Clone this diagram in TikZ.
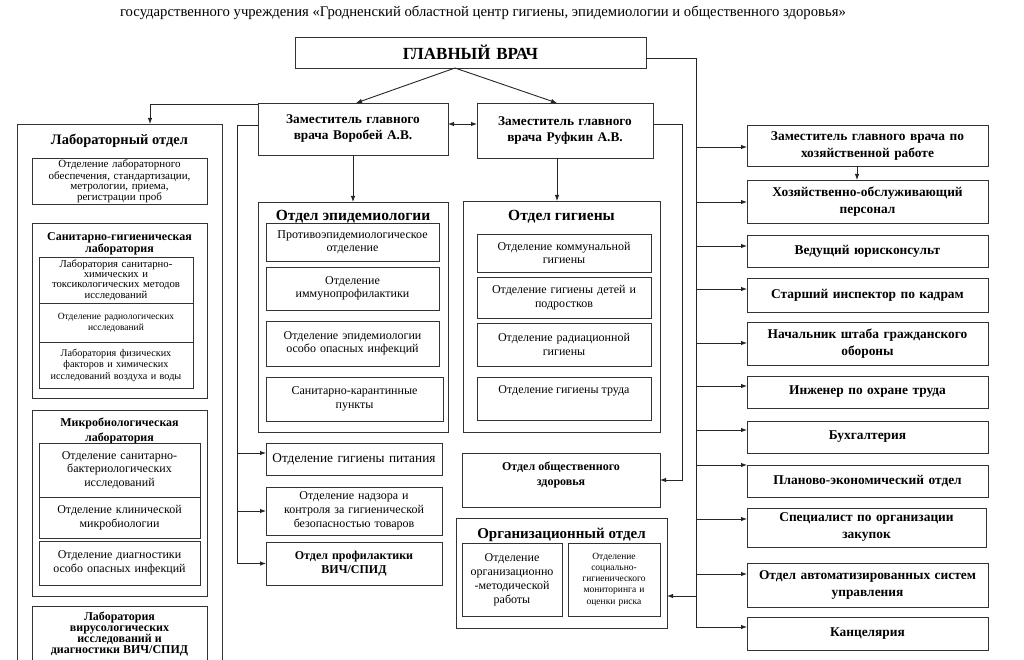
\documentclass[tikz,border=0pt]{standalone}
\usepackage{fontspec}
\setmainfont{Liberation Serif}
\usetikzlibrary{arrows.meta,calc}
\newcommand\fs[2]{\fontsize{#1}{#2}\selectfont}
\tikzset{
  bx/.style={draw=black!80, line width=0.9pt, inner sep=2pt, outer sep=0pt, align=center, anchor=north west, font=\rmfamily},
  txt/.style={inner sep=0pt, outer sep=0pt, align=center},
  rb/.style={font=\bfseries\fs{13.4}{17}},
  reg/.style={font=\fs{12}{13.5}},
  ttl/.style={font=\bfseries\fs{15.5}{16}},
  ln/.style={line width=0.9pt, draw=black!85},
  arr/.style={ln, -{Latex[length=6pt,width=4.5pt]}},
  dbl/.style={ln, {Latex[length=6pt,width=4.5pt]}-{Latex[length=6pt,width=4.5pt]}},
}
% box with centred text
\newcommand\bx[7][]{\node[bx,minimum width={(#5-#3)*1pt},minimum height={(#6-#4)*1pt},text width={(#5-#3-6)*1pt},#1] (#2) at (#3,#4) {#7};}
% box with text hung from the top
\newcommand\tb[8][]{\node[bx,minimum width={(#5-#3)*1pt},minimum height={(#6-#4)*1pt}] (#2) at (#3,#4) {};
  \node[txt,anchor=north,#1] (#2t) at ([yshift=-#7pt]#2.north) {#8};}
\begin{document}
\begin{tikzpicture}[x=1pt,y=-1pt]
\useasboundingbox (0,0) rectangle (1024,660);
\clip (0,0) rectangle (1024,660);
\fill[white] (0,0) rectangle (1024,660);

\node[txt,font=\fs{14.7}{16}] (head) at (483,13) {государственного учреждения «Гродненский областной центр гигиены, эпидемиологии и общественного здоровья»};

\bx[font=\bfseries\fs{17}{18}]{gv}{295}{37}{646}{68}{ГЛАВНЫЙ ВРАЧ}
\bx[font=\bfseries\fs{13.3}{16}]{vor}{258}{103}{448}{155}{Заместитель главного\\врача Воробей А.В.}
\bx[font=\bfseries\fs{13.3}{16}]{ruf}{477}{103}{653}{158}{Заместитель главного\\врача Руфкин А.В.}

% laboratory department
\tb[font=\bfseries\fs{14.5}{16}]{lab}{17}{124}{222}{690}{10.6}{Лабораторный отдел}
\bx[font=\fs{11}{10}]{lab1}{32}{158}{207}{203}{Отделение лабораторного\\обеспечения, стандартизации,\\метрологии, приема,\\регистрации проб}
\tb[font=\bfseries\fs{12}{11.5}]{sgl}{32}{223}{207}{398}{9.6}{Санитарно-гигиеническая\\лаборатория}
\bx[font=\fs{10.7}{10.3}]{sgl1}{39}{257}{193}{303}{Лаборатория санитарно-\\химических и\\токсикологических методов\\исследований}
\bx[font=\fs{9.5}{11}]{sgl2}{39}{303}{193}{342}{Отделение радиологических\\исследований}
\bx[font=\fs{10.2}{11.5}]{sgl3}{39}{342}{193}{388}{Лаборатория физических\\факторов и химических\\исследований воздуха и воды}
\tb[font=\bfseries\fs{12}{15}]{mic}{32}{410}{207}{596}{7.6}{Микробиологическая\\лаборатория}
\bx[reg]{mic1}{39}{443}{200}{497}{Отделение санитарно-\\бактериологических\\исследований}
\bx[reg]{mic2}{39}{497}{200}{538}{Отделение клинической\\микробиологии}
\bx[reg]{mic3}{39}{541}{200}{585}{Отделение диагностики\\особо опасных инфекций}
\tb[font=\bfseries\fs{12}{11}]{vir}{32}{606}{207}{690}{5.6}{Лаборатория\\вирусологических\\исследований и\\диагностики ВИЧ/СПИД}

% epidemiology
\tb[ttl]{epi}{258}{202}{448}{432}{8.4}{Отдел эпидемиологии}
\bx[reg]{epi1}{266}{223}{439}{261}{Противоэпидемиологическое\\отделение}
\bx[reg]{epi2}{266}{267}{439}{310}{Отделение\\иммунопрофилактики}
\bx[reg]{epi3}{266}{321}{439}{366}{Отделение эпидемиологии\\особо опасных инфекций}
\bx[reg]{epi4}{266}{377}{443}{421}{Санитарно-карантинные\\пункты}

% hygiene
\tb[ttl]{hyg}{463}{201}{660}{432}{9.4}{Отдел гигиены}
\bx[reg]{hyg1}{477}{234}{651}{272}{Отделение коммунальной\\гигиены}
\bx[reg]{hyg2}{477}{277}{651}{318}{Отделение гигиены детей и\\подростков}
\bx[reg]{hyg3}{477}{323}{651}{366}{Отделение радиационной\\гигиены}
\tb[reg]{hyg4}{477}{377}{651}{420}{8.6}{Отделение гигиены труда}

\bx[font=\fs{13.3}{14}]{pit}{266}{443}{442}{475}{Отделение гигиены питания}
\bx[font=\fs{12}{14}]{nad}{266}{487}{442}{535}{Отделение надзора и\\контроля за гигиенической\\безопасностью товаров}
\bx[font=\bfseries\fs{12}{14}]{vich}{266}{542}{442}{585}{Отдел профилактики\\ВИЧ/СПИД}

\tb[font=\bfseries\fs{12}{15}]{oz}{462}{453}{660}{507}{8.6}{Отдел общественного\\здоровья}
\tb[font=\bfseries\fs{15}{16}]{org}{456}{518}{667}{628}{10.5}{Организационный отдел}
\bx[font=\fs{12}{14}]{org1}{462}{543}{562}{616}{Отделение\\организационно\\-методической\\работы}
\bx[font=\fs{9.5}{11.3}]{org2}{568}{543}{660}{616}{Отделение\\социально-\\гигиенического\\мониторинга и\\оценки риска}

% right column
\bx[rb]{zx}{747}{125}{988}{166}{Заместитель главного врача по\\хозяйственной работе}
\bx[rb]{hop}{747}{180}{988}{223}{Хозяйственно-обслуживающий\\персонал}
\bx[rb]{jur}{747}{235}{988}{267}{Ведущий юрисконсульт}
\bx[rb]{insp}{747}{278}{988}{312}{Старший инспектор по кадрам}
\bx[rb]{shtab}{747}{322}{988}{365}{Начальник штаба гражданского\\обороны}
\bx[rb]{inzh}{747}{376}{988}{408}{Инженер по охране труда}
\bx[rb]{buh}{747}{421}{988}{453}{Бухгалтерия}
\bx[rb]{plan}{747}{465}{988}{497}{Планово-экономический отдел}
\bx[rb]{spec}{747}{508}{986}{547}{Специалист по организации\\закупок}
\bx[rb]{asu}{747}{563}{988}{607}{Отдел автоматизированных систем\\управления}
\bx[rb]{kanc}{747}{617}{988}{650}{Канцелярия}

% connectors
\draw[arr] ([xshift=-15.5]gv.south) -- ([xshift=3]vor.north);
\draw[arr] ([xshift=-15.5]gv.south) -- ([xshift=-8]ruf.north);
\draw[dbl] ([yshift=5]vor.east) -- ([yshift=5]vor.east -| ruf.west);
\draw[arr] (vor.south) -- (epi.north);
\draw[arr] ([xshift=-8]ruf.south) -- ([xshift=-8]ruf.south |- hyg.north);
\draw[arr] ([yshift=25]vor.west) -| ([xshift=30.5]lab.north);

\coordinate (spx) at (237,0);
\coordinate (ypit) at (0,453);
\draw[ln] ([yshift=4]vor.west) -| (spx |- vich.west);
\draw[arr] (spx |- ypit) -- (pit.west |- ypit);
\draw[arr] (spx |- nad.west) -- (nad.west);
\draw[arr] (spx |- vich.west) -- (vich.west);

\draw[arr] ([yshift=6.5]ruf.east) -- ++(29,0) |- (oz.east);

\coordinate (bus) at (696,0);
\coordinate (busend) at (696,627);
\draw[ln] ([yshift=-5.5]gv.east) -| (busend);
\foreach \n/\y in {zx/147, hop/202, jur/246, insp/289, shtab/343, inzh/386, buh/430, plan/465, spec/519, asu/574, kanc/627}{
  \coordinate (t) at (0,\y);
  \draw[arr] (bus |- t) -- (\n.west |- t);
}
\coordinate (yorg) at (0,596);
\draw[arr] (bus |- yorg) -- (org.east |- yorg);
\draw[arr] ([xshift=-10.5]zx.south) -- ([xshift=-10.5]zx.south |- hop.north);
\end{tikzpicture}
\end{document}
